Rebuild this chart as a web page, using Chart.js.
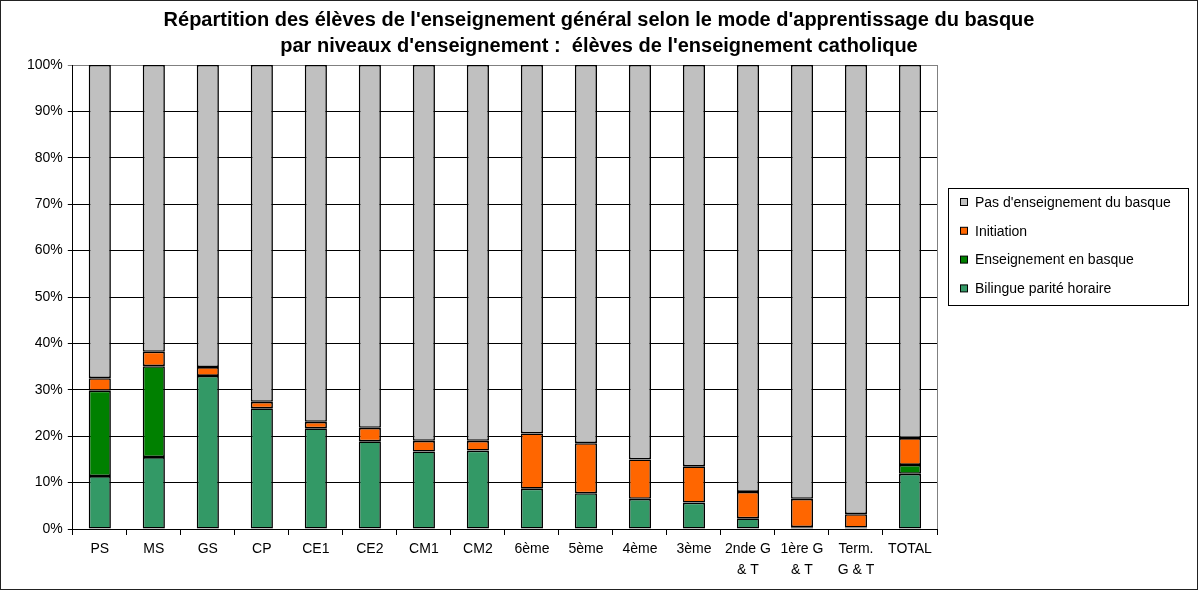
<!DOCTYPE html>
<html>
<head>
<meta charset="utf-8">
<script src="https://cdn.jsdelivr.net/npm/chart.js@4"></script>
<style>
  html, body { margin: 0; padding: 0; background: #fff; }
  #wrap { width: 1198px; height: 590px; }
</style>
</head>
<body>
<div id="wrap"><canvas id="chart" width="1198" height="590"></canvas></div>
<script>
const niveaux = ["PS","MS","GS","CP","CE1","CE2","CM1","CM2","6ème","5ème","4ème","3ème",["2nde G","& T"],["1ère G","& T"],["Term.","G & T"],"TOTAL"];

// percentages
const bilingue   = [11.4,15.5,33.0,26.0,21.7,18.9,16.7,16.9, 8.7, 7.7, 6.5, 5.7, 2.3, 0.4, 0.3,11.9];
const immersion  = [18.4,19.6,null,null,null,null,null,null,null,null,null,null,null,null,null, 1.9];
const initiation = [ 2.7, 3.1, 1.9, 1.4, 1.4, 2.9, 2.3, 2.1,11.9,10.8, 8.5, 7.8, 5.7, 6.1, 2.9, 5.8];
const sansBasque = [67.5,61.8,65.1,72.6,76.9,78.2,81.0,81.0,79.4,81.5,85.0,86.5,92.0,93.5,96.8,80.4];

const yTicks = [0,10,20,30,40,50,60,70,80,90,100];

const titre = ["Répartition des élèves de l'enseignement général selon le mode d'apprentissage du basque",
               "par niveaux d'enseignement :  élèves de l'enseignement catholique"];

const FONT = "'Liberation Sans', Arial, sans-serif";

const series = [
  { label: "Bilingue parité horaire", data: bilingue, color: "#339966" },
  { label: "Enseignement en basque", data: immersion, color: "#008000" },
  { label: "Initiation", data: initiation, color: "#FF6600" },
  { label: "Pas d'enseignement du basque", data: sansBasque, color: "#C0C0C0" }
];

// title, legend box and frames drawn by hand, Excel style
const excelBits = {
  id: "excelBits",
  afterDraw(chart) {
    const c = chart.ctx;
    const a = chart.chartArea;
    c.save();
    // plot area right edge
    c.strokeStyle = "#808080";
    c.lineWidth = 1;
    c.beginPath();
    c.moveTo(Math.round(a.right) + 0.5, a.top);
    c.lineTo(Math.round(a.right) + 0.5, a.bottom);
    c.stroke();

    // title, centred on the whole picture
    c.fillStyle = "#000";
    c.textAlign = "center";
    c.textBaseline = "middle";
    c.font = "bold 20px " + FONT;
    c.fillText(titre[0], chart.width / 2, 20);
    c.fillText(titre[1], chart.width / 2, 46);

    // legend
    const lx = 948, ly = 188, lw = 240, lh = 117;
    c.textAlign = "left";
    c.strokeStyle = "#000";
    c.strokeRect(lx + 0.5, ly + 0.5, lw, lh);
    c.font = "14px " + FONT;
    const items = series.slice().reverse();
    items.forEach((s, i) => {
      const cy = 202 + i * 28.8;
      c.fillStyle = s.color;
      c.fillRect(960, cy - 3.5, 7, 7);
      c.strokeStyle = "#000";
      c.strokeRect(960.5, cy - 3.5, 7, 7);
      c.fillStyle = "#000";
      c.fillText(s.label, 975, cy + 1);
    });

    // outer frame
    c.strokeStyle = "#222";
    c.strokeRect(0.5, 0.5, chart.width - 1, chart.height - 1);
    c.restore();
  }
};

new Chart(document.getElementById("chart"), {
  type: "bar",
  data: {
    labels: niveaux,
    datasets: series.map(s => ({
      label: s.label,
      data: s.data,
      backgroundColor: s.color,
      borderColor: "#000",
      borderWidth: 1.6,
      borderSkipped: false,
      barPercentage: 0.41,
      categoryPercentage: 1
    }))
  },
  options: {
    responsive: false,
    animation: false,
    devicePixelRatio: 1,
    layout: { padding: { left: 22, right: 261, top: 65, bottom: 5 } },
    plugins: {
      legend: { display: false },
      tooltip: { enabled: false },
      title: { display: false }
    },
    scales: {
      x: {
        stacked: true,
        grid: { drawOnChartArea: false, offset: true, tickLength: 6, color: "#000" },
        border: { color: "#000", width: 1 },
        ticks: { color: "#000", font: { family: FONT, size: 14, lineHeight: 1.5 }, padding: 4, maxRotation: 0, autoSkip: false }
      },
      y: {
        stacked: true,
        min: 0,
        max: 100,
        afterBuildTicks(axis) { axis.ticks = yTicks.map(v => ({ value: v })); },
        grid: { color: ctx => ctx.tick && ctx.tick.value === 100 ? "#808080" : "#000", lineWidth: 1, tickLength: 5 },
        border: { color: "#000", width: 1 },
        ticks: { color: "#000", font: { family: FONT, size: 14 }, padding: 5, callback: v => v + "%" }
      }
    }
  },
  plugins: [excelBits]
});
</script>
</body>
</html>
